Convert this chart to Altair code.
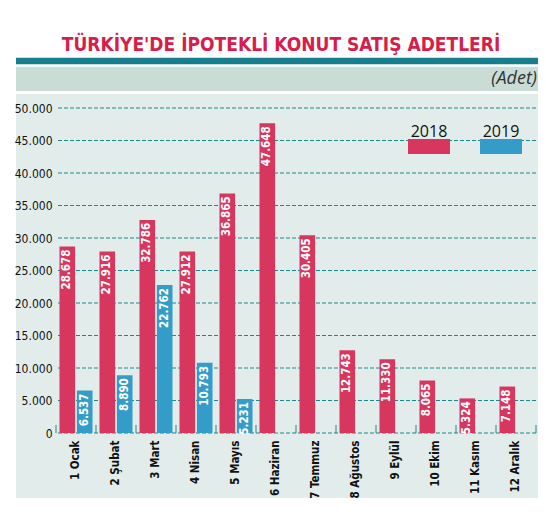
import altair as alt
import pandas as pd

# ---------------- data ----------------
months = ["1 Ocak", "2 Şubat", "3 Mart", "4 Nisan", "5 Mayıs", "6 Haziran",
          "7 Temmuz", "8 Ağustos", "9 Eylül", "10 Ekim", "11 Kasım", "12 Aralık"]
sales_2018 = [28678, 27916, 32786, 27912, 36865, 47648, 30405, 12743, 11330, 8065, 5324, 7148]
sales_2019 = [6537, 8890, 22762, 10793, 5231]
years = ["2018", "2019"]
y_ticks = [0, 5000, 10000, 15000, 20000, 25000, 30000, 35000, 40000, 45000, 50000]
title_text = "TÜRKİYE'DE İPOTEKLİ KONUT SATIŞ ADETLERİ"
unit_text = "(Adet)"

rows = []
for m, v in zip(months, sales_2018):
    rows.append({"month": m, "year": "2018", "value": v})
for m, v in zip(months, sales_2019):
    rows.append({"month": m, "year": "2019", "value": v})
df = pd.DataFrame(rows)
month_df = pd.DataFrame({"month": months})
grid_df = pd.DataFrame({"value": y_ticks})
legend_df = pd.DataFrame({"year": years})
one = pd.DataFrame({"k": [0]})

# ---------------- style ----------------
RED = "#d7365f"
BLUE = "#339cc9"
TITLE_RED = "#d61d4b"
TEAL = "#167f8e"
GRID = "#1b8a8c"
HEADER = "#c9dcd6"
PANEL = "#e2edeb"
NARROW = "Liberation Sans Narrow, DejaVu Sans Condensed, Roboto Condensed, Noto Sans, sans-serif"
W, H = 480, 325

x_scale = alt.Scale(domain=months, paddingInner=0, paddingOuter=0)
y_scale = alt.Scale(domain=[0, 50000], nice=False)
xo_scale = alt.Scale(domain=years, paddingInner=0.1, paddingOuter=0.2)
color_scale = alt.Scale(domain=years, range=[RED, BLUE])

x_axis = alt.Axis(title=None, labelAngle=270, labelFont=NARROW, labelFontSize=11.5,
                  labelFontWeight="bold", labelColor="#111111", labelPadding=7,
                  ticks=False, domain=False, grid=False, zindex=1, labelOverlap=False)
y_axis = alt.Axis(title=None, values=y_ticks, labelFont=NARROW, labelFontSize=12,
                  labelColor="#111111", labelPadding=4, ticks=False, domain=False,
                  grid=False, zindex=1, labelOverlap=False,
                  labelExpr="replace(format(datum.value, ','), ',', '.')")

# ---------------- decorations ----------------
panel = alt.Chart(one).mark_rect(color=PANEL).encode(
    x=alt.value(-40), x2=alt.value(483), y=alt.value(-14), y2=alt.value(390))
header = alt.Chart(one).mark_rect(color=HEADER).encode(
    x=alt.value(-40), x2=alt.value(482), y=alt.value(-41.3), y2=alt.value(-17))
band = alt.Chart(one).mark_rect(color=TEAL).encode(
    x=alt.value(-40), x2=alt.value(482), y=alt.value(-50.3), y2=alt.value(-43.7))
title = alt.Chart(one).mark_text(
    text=title_text, font=NARROW, fontSize=19, fontWeight="bold", color=TITLE_RED,
    align="center", baseline="alphabetic").encode(x=alt.value(225), y=alt.value(-57))
unit = alt.Chart(one).mark_text(
    text=unit_text, font="Open Sans", fontSize=18, fontStyle="italic", color="#333333",
    align="right", baseline="alphabetic").encode(x=alt.value(481), y=alt.value(-24.5))

# ---------------- grid, bars, labels ----------------
grid = alt.Chart(grid_df).mark_rule(color=GRID, strokeWidth=1, strokeDash=[4, 2]).encode(
    y=alt.Y("value:Q", scale=y_scale, axis=y_axis))

bars = alt.Chart(df).mark_bar().encode(
    x=alt.X("month:N", scale=x_scale, axis=x_axis),
    xOffset=alt.XOffset("year:N", scale=xo_scale),
    y=alt.Y("value:Q", scale=y_scale, axis=y_axis),
    color=alt.Color("year:N", scale=color_scale, legend=None),
)

labels = alt.Chart(df).transform_calculate(
    label="replace(format(datum.value, ','), ',', '.')"
).mark_text(angle=270, align="right", baseline="middle", dx=-3, color="white",
            font=NARROW, fontSize=11.5, fontWeight="bold").encode(
    x=alt.X("month:N", scale=x_scale, axis=x_axis),
    xOffset=alt.XOffset("year:N", scale=xo_scale),
    y=alt.Y("value:Q", scale=y_scale, axis=y_axis),
    text="label:N",
)

ticks = alt.Chart(month_df).mark_rule(color=GRID, strokeWidth=1).encode(
    x=alt.X("month:N", scale=x_scale, bandPosition=0, axis=x_axis),
    y=alt.value(H - 8), y2=alt.value(H))
last_tick = alt.Chart(month_df).transform_filter(
    alt.datum.month == months[-1]
).mark_rule(color=GRID, strokeWidth=1).encode(
    x=alt.X("month:N", scale=x_scale, bandPosition=1, axis=x_axis),
    y=alt.value(H - 8), y2=alt.value(H))

main = alt.layer(panel, header, band, title, unit, grid, bars, labels, ticks, last_tick)

# ---------------- legend ----------------
leg_scale = alt.Scale(type="band", domain=years, range=[352, 466],
                      paddingInner=0.4167, paddingOuter=0)
leg_rect = alt.Chart(legend_df).mark_rect().encode(
    x=alt.X("year:N", scale=leg_scale, axis=None),
    y=alt.value(31), y2=alt.value(46),
    color=alt.Color("year:N", scale=color_scale, legend=None))
leg_text = alt.Chart(legend_df).mark_text(
    font="Open Sans", fontSize=16, color="#111111", align="center",
    baseline="alphabetic").encode(
    x=alt.X("year:N", scale=leg_scale, axis=None),
    y=alt.value(29), text="year:N")
legend = alt.layer(leg_rect, leg_text)

chart = alt.layer(main, legend).resolve_scale(x="independent").properties(
    width=W, height=H,
    padding={"left": 48, "top": 100, "right": 2, "bottom": 70},
    autosize="none", background="white",
).configure_view(stroke=None)

chart.save("out.html", embed_options={"renderer": "svg", "actions": False})
